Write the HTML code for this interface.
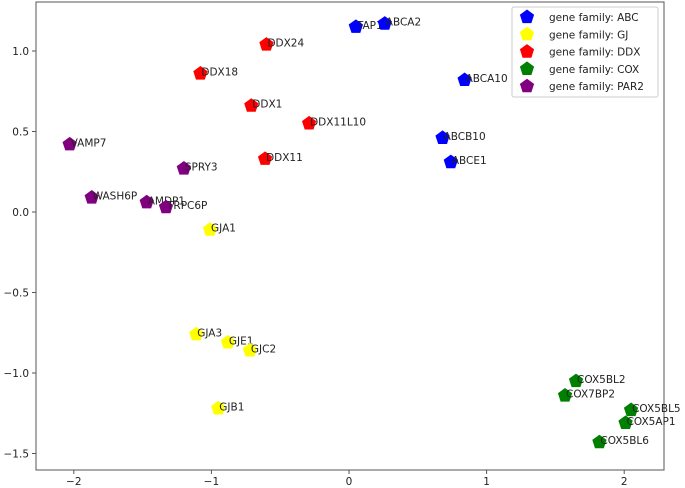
<!DOCTYPE html>
<html><head><meta charset="utf-8"><style>
body{margin:0;background:#fff;}
svg{display:block;font-family:"DejaVu Sans","Liberation Sans",sans-serif;}
</style></head><body>
<svg id="chart" width="685" height="488">
<rect x="36" y="2" width="628" height="468" fill="#fff" stroke="#555" stroke-width="1"/>
<g id="ticks"></g><g id="pts"></g><g id="legend"></g>
</svg>
<script>
const xTicks=[-2,-1,0,1,2];
const yTicks=[1.0,0.5,0.0,-0.5,-1.0,-1.5];
const families=["ABC","GJ","DDX","COX","PAR2"];
const familyColors=["#0000ff","#ffff00","#ff0000","#008000","#800080"];
const abcNames=["TAP1","ABCA2","ABCA10","ABCB10","ABCE1"];
const abcX=[0.05,0.26,0.84,0.68,0.74];
const abcY=[1.15,1.17,0.82,0.46,0.31];
const gjNames=["GJA1","GJA3","GJE1","GJC2","GJB1"];
const gjX=[-1.01,-1.11,-0.88,-0.72,-0.95];
const gjY=[-0.11,-0.76,-0.81,-0.86,-1.22];
const ddxNames=["DDX24","DDX18","DDX1","DDX11L10","DDX11"];
const ddxX=[-0.60,-1.08,-0.71,-0.29,-0.61];
const ddxY=[1.04,0.86,0.66,0.55,0.33];
const coxNames=["COX5BL2","COX7BP2","COX5BL5","COX5AP1","COX5BL6"];
const coxX=[1.65,1.57,2.05,2.01,1.82];
const coxY=[-1.05,-1.14,-1.23,-1.31,-1.43];
const parNames=["VAMP7","WASH6P","AMDP1","TRPC6P","SPRY3"];
const parX=[-2.03,-1.87,-1.47,-1.33,-1.20];
const parY=[0.42,0.09,0.06,0.03,0.27];

const NS="http://www.w3.org/2000/svg";
const sx=v=>349+v*137.6;
const sy=v=>212-v*161;
function mk(tag,attrs,parent){const e=document.createElementNS(NS,tag);for(const k in attrs)e.setAttribute(k,attrs[k]);parent.appendChild(e);return e;}
function pent(cx,cy,r){let p=[];for(let i=0;i<5;i++){const a=-Math.PI/2+i*2*Math.PI/5;p.push((cx+r*Math.cos(a)).toFixed(1)+","+(cy+r*Math.sin(a)).toFixed(1));}return p.join(" ");}
const tg=document.getElementById("ticks");
xTicks.forEach(t=>{
  const l=mk("line",{x1:sx(t),x2:sx(t),y1:470,y2:474,stroke:"#555"},tg);
  
  
  const tx=mk("text",{x:sx(t),y:485,"text-anchor":"middle","font-size":"10.5",fill:"#222"},tg);
  tx.textContent=(t<0?"\u2212"+(-t):String(t));
  
  
});
yTicks.forEach(t=>{
  const l=mk("line",{x1:32,x2:36,y1:sy(t),y2:sy(t),stroke:"#555"},tg);
  
  
  const tx=mk("text",{x:29,y:sy(t)+4,"text-anchor":"end","font-size":"10.5",fill:"#222"},tg);
  tx.textContent=(t<0?"\u2212"+(-t).toFixed(1):t.toFixed(1));
  
  
});
const groups=[[abcNames,abcX,abcY],[gjNames,gjX,gjY],[ddxNames,ddxX,ddxY],[coxNames,coxX,coxY],[parNames,parX,parY]];
const pg=document.getElementById("pts");
groups.forEach((g,gi)=>{
  g[0].forEach((n,i)=>{
    const x=sx(g[1][i]),y=sy(g[2][i]);
    const p=mk("polygon",{points:pent(x,y,7.5),fill:familyColors[gi]},pg);
    
    
    const t=mk("text",{x:x+1,y:y+2,"font-size":"10.5",fill:"#222"},pg);
    t.textContent=n;
    
    
  });
});
const lg=document.getElementById("legend");
const box=mk("rect",{x:512,y:7,width:146,height:90,rx:2,fill:"#fff",stroke:"#ccc"},lg);


families.forEach((f,i)=>{
  const y=17+i*17.3;
  const m=mk("polygon",{points:pent(527,y,7.5),fill:familyColors[i]},lg);
  
  
  const t=mk("text",{x:549,y:y+4,"font-size":"10.5",fill:"#222"},lg);
  t.textContent="gene family: "+f;
  
  
});
</script>
</body></html>
